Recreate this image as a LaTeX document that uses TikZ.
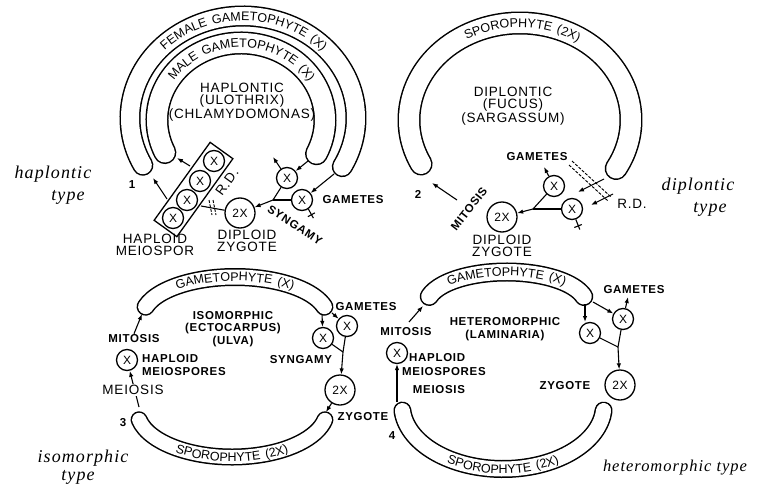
\documentclass[tikz,border=0pt]{standalone}
\usepackage{fontspec}
\newfontfamily\lab{Liberation Sans}[LetterSpace=6]
\newfontfamily\arcfam{Liberation Sans}[LetterSpace=14]
\newfontfamily\handf{Liberation Serif}[LetterSpace=6]
\usetikzlibrary{arrows.meta,decorations.text}
\newcommand\arcf{\arcfam\fontsize{12.5}{13}\selectfont}
\tikzset{
  tube/.style={draw=black, line width=1.5pt, double=white, line cap=round},
  cell/.style={circle, draw, line width=1.3pt, inner sep=0pt, minimum size=21pt, font=\lab\fontsize{12}{12}\selectfont},
  zyg/.style={cell, minimum size=30pt},
  ln/.style={line width=1.1pt},
  arr/.style={ln, -{Latex[length=6pt,width=4.5pt]}},
  lbl/.style={font=\lab\fontsize{13.5}{12.5}\selectfont, align=center, inner sep=1pt},
  blbl/.style={font=\lab\bfseries\fontsize{11.5}{12.5}\selectfont, align=center, inner sep=1pt},
  hand/.style={font=\handf\itshape\fontsize{18}{20}\selectfont, inner sep=0pt},
  rdline/.style={line width=0.9pt, dash pattern=on 3pt off 1.5pt},
  arctext/.style={decorate, decoration={text along path, text align=center, text={|\arcf|#1}}}
}
\begin{document}
\begin{tikzpicture}[x=1pt,y=-1pt]
\fill[white] (0,0) rectangle (778,484);
\useasboundingbox (0,0) rectangle (778,484);

% ================= Panel 1 : haplontic =================
\draw[tube, double distance=18pt] (243,118) ++(152.4:113 and 102) arc[start angle=152.4, end angle=388.5, x radius=113, y radius=102];
\path[arctext={FEMALE GAMETOPHYTE (X)}] (243,118) ++(152.4:108.5 and 97.5) arc[start angle=152.4, end angle=388.5, x radius=108.5, y radius=97.5];
\draw[tube, double distance=20pt] (241,120) ++(155:84 and 77) arc[start angle=155, end angle=386, x radius=84, y radius=77];
\path[arctext={MALE GAMETOPHYTE (X)}] (241,120) ++(155:79.5 and 72.5) arc[start angle=155, end angle=386, x radius=79.5, y radius=72.5];

\node[lbl] (t1) at (242,102) {HAPLONTIC\\(ULOTHRIX)\\(CHLAMYDOMONAS)};
\node[blbl] (n1) at (132,185) {1};

\node[draw, line width=1.3pt, rotate=54.3, minimum width=96pt, minimum height=28pt, inner sep=0pt] (box1) at (193.5,189.5) {};
\node[cell] (m1a) at (173,218) {X};
\node[cell] (m1b) at (187,200) {X};
\node[cell] (m1c) at (200,181) {X};
\node[cell] (m1d) at (214,161) {X};
\node[lbl, rotate=54] (rd1t) at (227,182) {R.D.};

\coordinate (b1f) at (167,199);
\coordinate (f1l) at (153,178);
\draw[arr] (b1f) -- (f1l);
\coordinate (b1m) at (190,166);
\coordinate (m1l) at (177,158);
\draw[arr] (b1m) -- (m1l);

\node[zyg] (z1) at (240,213) {2X};
\coordinate (rd1) at (201,206);
\draw[ln] (z1) -- (rd1);
\draw[rdline] (209,200) -- (212,215);
\draw[rdline] (213,200) -- (216,215);

\node[cell] (g1a) at (287,178) {X};
\node[cell] (g1b) at (302,200) {X};
\coordinate (j1) at (273,200);
\draw[ln] (g1a) -- (j1);
\draw[ln] (g1b) -- (j1);
\draw[arr] (j1) -- (z1);
\coordinate (u1) at (273,157);
\draw[arr] (g1a) -- (u1);
\coordinate (me1) at (308,161);
\draw[arr] (me1) -- (g1a);
\coordinate (fe1) at (334,174);
\draw[arr] (fe1) -- (g1b);
\draw[ln] (g1b.-55) -- ++(5,9);
\draw[ln] (g1b.-55) ++(-0.5,7.5) -- ++(7,-3.8);

\node[blbl] (gm1) at (353,200) {GAMETES};
\node[blbl, rotate=-33] (sy1) at (295,225) {SYNGAMY};
\node[lbl] (dz1) at (247,241) {DIPLOID\\ZYGOTE};
\node[lbl] (hm1) at (155,245) {HAPLOID\\MEIOSPOR};

\node[hand] (h1a) at (53,174) {haplontic};
\node[hand] (h1b) at (68,197) {type};

% ================= Panel 2 : diplontic =================
\draw[tube, double distance=20pt] (520,120) ++(153:111 and 97) arc[start angle=153, end angle=390, x radius=111, y radius=97];
\path[arctext={SPOROPHYTE (2X)}] (520,120) ++(153:106.5 and 92.5) arc[start angle=153, end angle=390, x radius=106.5, y radius=92.5];

\node[lbl] (t2) at (513,106) {DIPLONTIC\\(FUCUS)\\(SARGASSUM)};
\node[blbl] (n2) at (418,194) {2};
\node[blbl, rotate=52] (mit2) at (469,209) {MITOSIS};
\coordinate (mt2a) at (457,200);
\coordinate (mt2b) at (432,183);
\draw[arr] (mt2a) -- (mt2b);

\node[zyg] (z2) at (502,217) {2X};
\node[lbl] (dz2) at (502,246) {DIPLOID\\ZYGOTE};
\node[blbl] (gm2) at (537,157) {GAMETES};
\node[cell] (g2a) at (554,186) {X};
\node[cell] (g2b) at (572,209) {X};
\coordinate (j2) at (533,209);
\draw[ln] (g2a) -- (j2);
\draw[ln] (g2b) -- (j2);
\draw[arr] (j2) -- (z2);
\coordinate (u2) at (544,167);
\draw[arr] (g2a) -- (u2);
\coordinate (se2a) at (604,179);
\coordinate (se2ah) at (578,192);
\draw[arr] (se2a) -- (se2ah);
\coordinate (se2b) at (613,194);
\coordinate (se2bh) at (591,205);
\draw[arr] (se2b) -- (se2bh);
\draw[ln] (g2b.-70) -- ++(4,10);
\draw[ln] (g2b.-70) ++(-1.5,8) -- ++(7.5,-3);
\draw[rdline] (569,165) -- (608,201);
\draw[rdline] (572,161) -- (611,197);
\node[lbl] (rd2t) at (632,204) {R.D.};

\node[hand] (h2a) at (698,186) {diplontic};
\node[hand] (h2b) at (710,209) {type};

% ================= Panel 3 : isomorphic =================
\draw[tube, double distance=15pt] (235,318) ++(196:93 and 41) arc[start angle=196, end angle=344, x radius=93, y radius=41];
\path[arctext={GAMETOPHYTE (X)}] (235,318) ++(196:89 and 37) arc[start angle=196, end angle=344, x radius=89, y radius=37];
\draw[tube, double distance=14pt] (232,410) ++(168:95 and 47) arc[start angle=168, end angle=12, x radius=95, y radius=47];
\path[arctext={SPOROPHYTE (2X)}] (232,410) ++(168:99.5 and 51.5) arc[start angle=168, end angle=12, x radius=99.5, y radius=51.5];

\node[blbl] (t3) at (233,329) {ISOMORPHIC\\(ECTOCARPUS)\\(ULVA)};
\node[blbl] (mit3) at (134,339) {MITOSIS};
\coordinate (g3l) at (142,314);
\draw[arr] (mit3.north) -- (g3l);
\node[cell] (s3) at (127,360) {X};
\node[blbl, anchor=west, align=left] (hm3) at (141,365) {HAPLOID\\MEIOSPORES};
\coordinate (sp3l) at (139,407);
\draw[arr] (sp3l) -- (s3);
\node[lbl, fill=white] (mei3) at (133,390) {MEIOSIS};
\node[blbl] (n3) at (123,423) {3};

\node[cell] (g3a) at (323,338) {X};
\node[cell] (g3b) at (347,326) {X};
\coordinate (ge3a) at (322,314);
\coordinate (ge3b) at (332,313);
\draw[arr] (ge3a) -- (g3a);
\draw[arr] (ge3b) -- (g3b);
\node[zyg] (z3) at (340,390) {2X};
\coordinate (j3) at (343,352);
\draw[ln] (g3a) -- (j3);
\draw[ln] (g3b) -- (j3);
\draw[arr] (j3) -- (z3);
\coordinate (sp3r) at (326,412);
\draw[arr] (z3) -- (sp3r);
\node[blbl] (sy3) at (301,360) {SYNGAMY};
\node[blbl] (gm3) at (366,307) {GAMETES};
\node[blbl] (zy3) at (363,417) {ZYGOTE};

\node[hand] (h3a) at (83,458) {isomorphic};
\node[hand] (h3b) at (78,477) {type};

% ================= Panel 4 : heteromorphic =================
\draw[tube, double distance=16pt] (506.5,305) ++(195:80 and 33) arc[start angle=195, end angle=345, x radius=80, y radius=33];
\path[arctext={GAMETOPHYTE (X)}] (506.5,305) ++(195:76 and 29) arc[start angle=195, end angle=345, x radius=76, y radius=29];
\draw[tube, double distance=15pt] (503,405) ++(175:101 and 64) arc[start angle=175, end angle=5, x radius=101, y radius=64];
\path[arctext={SPOROPHYTE (2X)}] (503,405) ++(175:105.5 and 68.5) arc[start angle=175, end angle=5, x radius=105.5, y radius=68.5];

\node[blbl] (t4) at (505,329) {HETEROMORPHIC\\(LAMINARIA)};
\node[blbl] (mit4) at (406,332) {MITOSIS};
\coordinate (mt4a) at (409,322);
\coordinate (g4l) at (423,306);
\draw[arr] (mt4a) -- (g4l);
\node[cell] (s4) at (397,353) {X};
\coordinate (sp4l) at (397,402);
\draw[arr] (sp4l) -- (s4);
\node[blbl, anchor=west] (hp4) at (408,358) {HAPLOID};
\node[blbl, anchor=west] (ms4) at (401,372) {MEIOSPORES};
\node[blbl] (mei4) at (439,390) {MEIOSIS};
\node[blbl] (n4) at (392,436) {4};

\node[cell] (g4a) at (590,333) {X};
\node[cell] (g4b) at (623,319) {X};
\coordinate (ge4a) at (585,304);
\coordinate (ge4ah) at (585,322);
\draw[arr] (ge4a) -- (ge4ah);
\coordinate (ge4b) at (593,302);
\draw[arr] (ge4b) -- (g4b);
\coordinate (u4) at (628,297);
\draw[arr] (g4b) -- (u4);
\node[zyg] (z4) at (620,385) {2X};
\coordinate (j4) at (618,347);
\draw[ln] (g4a) -- (j4);
\draw[ln] (g4b) -- (j4);
\draw[arr] (j4) -- (z4);
\node[blbl] (gm4) at (634,290) {GAMETES};
\node[blbl] (zy4) at (565,386) {ZYGOTE};

\node[hand, font=\handf\itshape\fontsize{16.5}{18}\selectfont] (h4) at (675,468) {heteromorphic type};
\end{tikzpicture}
\end{document}
